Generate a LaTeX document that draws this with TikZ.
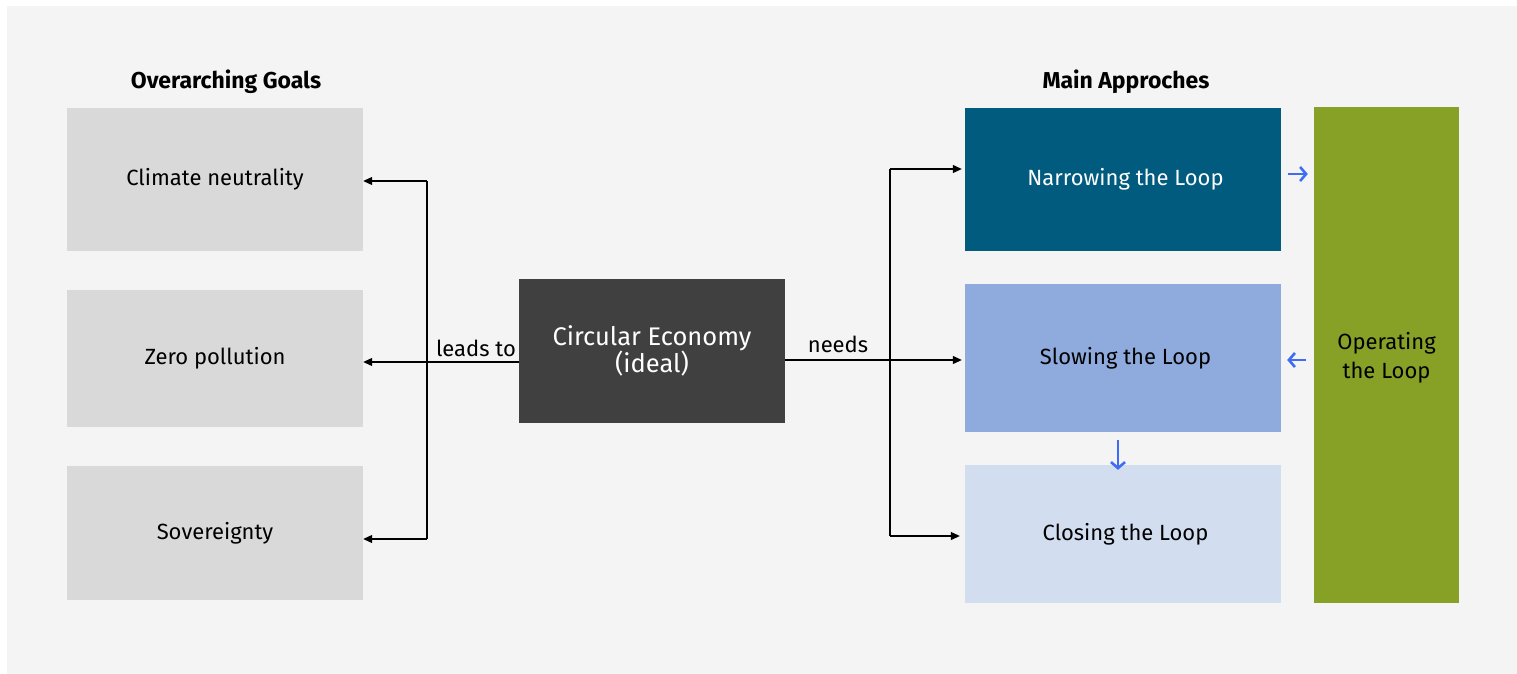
\documentclass[tikz,border=0pt]{standalone}
\usepackage{fontspec}
\setmainfont{Fira Sans}
\usetikzlibrary{arrows.meta}
\definecolor{bgc}{HTML}{F4F4F4}
\definecolor{goalc}{HTML}{D9D9D9}
\definecolor{cec}{HTML}{404040}
\definecolor{narc}{HTML}{005B7E}
\definecolor{sloc}{HTML}{8FABDD}
\definecolor{cloc}{HTML}{D2DDF0}
\definecolor{opc}{HTML}{87A026}
\definecolor{arrc}{HTML}{3D6DF2}
\tikzset{
  box/.style={draw=none, inner sep=0pt, align=center, font=\fontsize{22}{29}\selectfont},
  title/.style={font=\fontsize{23}{26}\selectfont\bfseries},
  conn/.style={line width=1.1pt, -{Triangle[length=9pt,width=8pt]}},
  line/.style={line width=1.1pt},
  lbl/.style={font=\fontsize{22}{26}\selectfont},
  small/.style={draw=arrc, line width=2.6pt, -{Straight Barb[length=6pt,width=14pt]}}
}
\begin{document}
\begin{tikzpicture}[x=1pt,y=-1pt]
\useasboundingbox (0,0) rectangle (1517,674);
\fill[white] (0,0) rectangle (1517,674);
\fill[bgc] (7,6) rectangle (1517,674);
% titles
\node[title] (tg) at (226,82) {Overarching Goals};
\node[title] (ta) at (1126,82) {Main Approches};
% left boxes
\node[box, fill=goalc, minimum width=296pt, minimum height=143pt] (cn) at (215,179.5) {Climate neutrality};
\node[box, fill=goalc, minimum width=296pt, minimum height=137pt] (zp) at (215,358.5) {Zero pollution};
\node[box, fill=goalc, minimum width=296pt, minimum height=134pt] (sv) at (215,533) {Sovereignty};
% center
\node[box, fill=cec, text=white, minimum width=266pt, minimum height=144pt, font=\fontsize{25.5}{27}\selectfont] (ce) at (652,351) {Circular Economy\\(ideal)};
% right boxes
\node[box, fill=narc, text=white, minimum width=316pt, minimum height=143pt] (nl) at (1123,179.5) {\hspace*{5pt}Narrowing the Loop};
\node[box, fill=sloc, minimum width=316pt, minimum height=148pt] (sl) at (1123,358) {\hspace*{5pt}Slowing the Loop};
\node[box, fill=cloc, minimum width=316pt, minimum height=138pt] (cl) at (1123,534) {\hspace*{5pt}Closing the Loop};
\node[box, fill=opc, minimum width=145pt, minimum height=496pt] (ol) at (1386.5,355) {\raisebox{-3pt}[\height][\depth]{\begin{tabular}{@{}c@{}}Operating\\the Loop\end{tabular}}};
% left connectors
\coordinate (lj1) at (427,181);
\coordinate (lj3) at (427,539);
\draw[line] (lj1) -- (lj3);
\draw[conn] (lj1) -- (cn.east |- lj1);
\draw[conn] (ce.west |- 0,362) -- (zp.east |- 0,362);
\draw[conn] (lj3) -- (sv.east |- lj3);
\node[lbl, anchor=south] (lt) at (476,360) {leads to};
% right connectors
\coordinate (rj1) at (890,169);
\coordinate (rj3) at (890,536);
\draw[line] (rj1) -- (rj3);
\draw[conn] (rj1) -- ([xshift=-3pt]nl.west |- rj1);
\draw[conn] (ce.east |- 0,360) -- ([xshift=-3pt]sl.west |- 0,360);
\draw[conn] (rj3) -- ([xshift=-5pt]cl.west |- rj3);
\node[lbl, anchor=south] (nd) at (838,356) {needs};
% small blue arrows
\draw[small] ([xshift=7pt]nl.east |- 0,174) -- ([xshift=-6pt]ol.west |- 0,174);
\draw[small] ([xshift=-8pt]ol.west |- 0,360) -- ([xshift=6pt]sl.east |- 0,360);
\draw[small] (sl.south -| 1118,0) ++(0,8) -- ([yshift=-5pt]cl.north -| 1118,0);
\end{tikzpicture}
\end{document}
